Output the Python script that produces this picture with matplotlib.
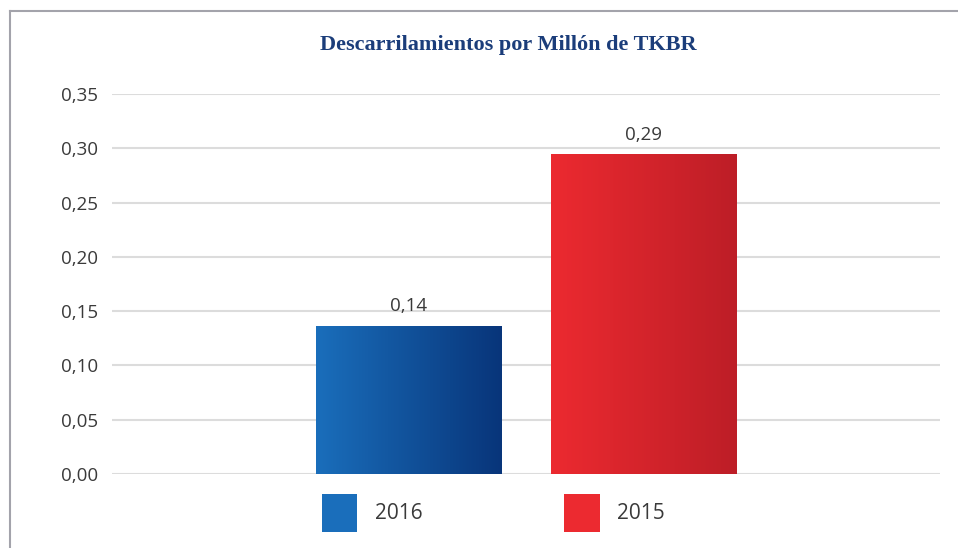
import matplotlib
matplotlib.use("Agg")
import matplotlib.pyplot as plt
import numpy as np
from matplotlib.colors import LinearSegmentedColormap
from matplotlib.patches import Patch
from matplotlib.lines import Line2D

# data
years = ["2016", "2015"]
values = [0.136, 0.294]
value_labels = ["0,14", "0,29"]
yticks = [0.00, 0.05, 0.10, 0.15, 0.20, 0.25, 0.30, 0.35]
ytick_labels = ["0,00", "0,05", "0,10", "0,15", "0,20", "0,25", "0,30", "0,35"]

grads = [("#1a6ebb", "#08357a"), ("#ec2a30", "#bd1e27")]
text_col = "#3a3a3a"

plt.rcParams['font.family'] = ['Open Sans', 'DejaVu Sans']

fig = plt.figure(figsize=(9.58, 5.48), dpi=100)
ax = fig.add_axes([0.1169, 0.135, 0.8643, 0.6934])

x = np.arange(len(years))
bars = ax.bar(x, values, width=0.79, color="none", edgecolor="none", zorder=3)

# horizontal gradient inside each bar
grad = np.linspace(0, 1, 256).reshape(1, -1)
for b, (c0, c1) in zip(bars, grads):
    cmap = LinearSegmentedColormap.from_list("g", [c0, c1])
    x0, y0 = b.get_x(), b.get_y()
    ax.imshow(grad, cmap=cmap, aspect="auto", zorder=3,
              extent=[x0, x0 + b.get_width(), y0, y0 + b.get_height()])

ax.bar_label(bars, labels=value_labels, padding=8, fontsize=13.5, color=text_col)

ax.set_xlim(-1.264, 2.26)
ax.set_ylim(0, 0.35)
ax.set_yticks(yticks)
ax.set_yticklabels(ytick_labels)
ax.set_xticks([])
ax.tick_params(axis="y", length=0, pad=10, labelsize=13.5, labelcolor=text_col)
ax.grid(axis="y", color="#dcdcdc", linewidth=1.5, zorder=0)
for s in ax.spines.values():
    s.set_visible(False)

fig.text(0.531, 0.918, "Descarrilamientos por Millón de TKBR", ha="center", va="center",
         fontsize=16, fontweight="bold", color="#1b3d7a", family="Liberation Serif")

# outer frame (left and top)
fig.add_artist(Line2D([0.0105, 0.0105], [0.0, 0.98], color="#a3a3ab", lw=1.5))
fig.add_artist(Line2D([0.0105, 1.0], [0.98, 0.98], color="#a3a3ab", lw=1.5))

handles = [Patch(facecolor=grads[0][0], edgecolor="none"),
           Patch(facecolor=grads[1][0], edgecolor="none")]
fig.legend(handles, years, loc="center", bbox_to_anchor=(0.515, 0.064), ncol=2,
           frameon=False, fontsize=15, labelcolor=text_col,
           handlelength=1.7, handleheight=2.4, handletextpad=0.85, columnspacing=6.8)

fig.savefig("out.png", dpi=100)
